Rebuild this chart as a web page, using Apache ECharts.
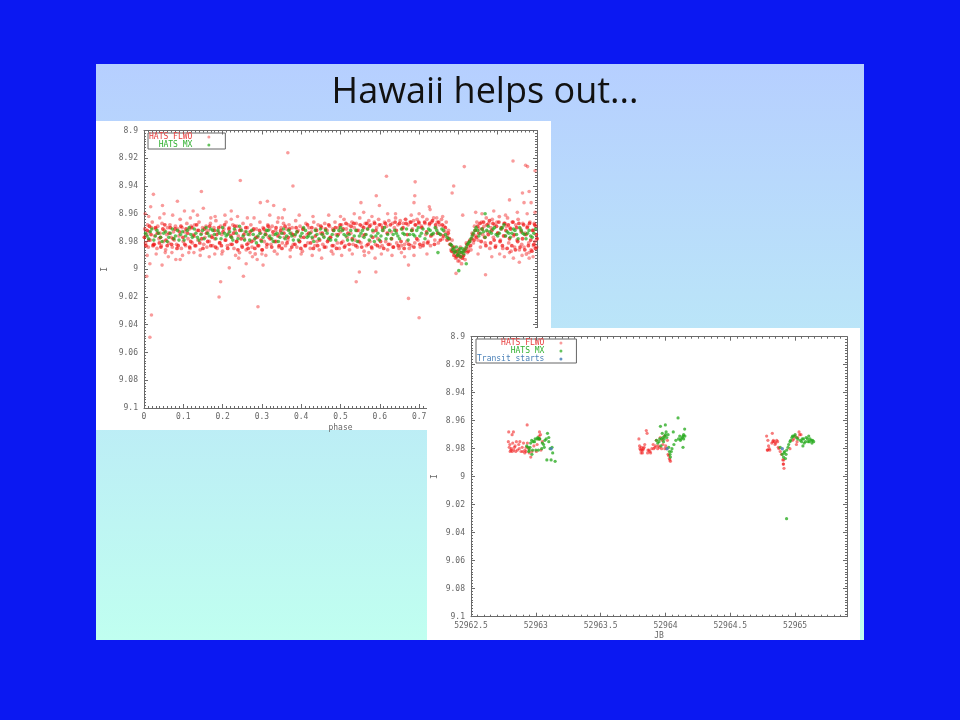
<!DOCTYPE html>
<html><head><meta charset="utf-8">
<style>html,body{margin:0;background:#0b18f2}#c{width:960px;height:720px;filter:blur(.6px)}</style>
<script src="https://cdn.jsdelivr.net/npm/echarts@6/dist/echarts.min.js"></script>
</head><body><div id="c"></div>
<script>
const titleText = 'Hawaii helps out...';
const seriesNames = ['HATS FLWO', 'HATS MX', 'Transit starts'];
const phaseOutliers = [[.366,8.916],[.245,8.936],[.379,8.94],[.146,8.944],[.024,8.946],[.085,8.951],[.314,8.951],[.296,8.952],[.33,8.954],[.047,8.954],[.017,8.955],[.151,8.956],[.357,8.957],[.125,8.958],[.103,8.958],[.222,8.958],[.003,8.96],[.051,8.96],[.181,8.962],[.222,8.964],[.263,8.963],[.342,8.963],[.015,8.996],[.046,8.997],[.217,8.999],[.26,8.996],[.288,8.993],[.303,8.997],[.007,9.005],[.253,9.005],[.081,8.993],[.092,8.993],[.054,8.988],[.071,8.988],[.127,8.988],[.18,8.989],[.27,8.988],[.3,8.989],[.195,9.009],[.191,9.02],[.019,9.033],[.015,9.049],[.29,9.027],[.54,9.009],[.673,9.021],[.7,9.035],[.617,8.933],[.69,8.937],[.815,8.926],[.939,8.922],[.971,8.925],[.976,8.926],[.995,8.929],[.788,8.94],[.784,8.945],[.591,8.947],[.689,8.947],[.687,8.952],[.552,8.952],[.599,8.954],[.559,8.959],[.726,8.955],[.728,8.957],[.963,8.945],[.98,8.944],[.93,8.95],[.967,8.952],[.985,8.952],[.844,8.959],[.95,8.959],[.995,8.959],[.811,8.961],[.62,8.96],[.68,8.961],[.745,8.963],[.665,8.964],[.663,8.991],[.673,8.997],[.548,9.002],[.59,9.002],[.794,9.003],[.869,9.004],[.588,8.992],[.572,8.988],[.955,8.995],[.917,8.991],[.93,8.988],[.98,8.992],[.98,8.988],[.802,8.994],
[.008,8.99],[.031,8.989],[.062,8.991],[.098,8.99],[.114,8.988],[.143,8.99],[.166,8.991],[.198,8.989],[.233,8.99],[.241,8.992],[.276,8.991],[.31,8.99],[.339,8.989],[.372,8.991],[.4,8.989],[.428,8.99],[.452,8.992],[.481,8.989],[.503,8.99],[.53,8.989],[.561,8.99],[.604,8.989],[.631,8.99],[.655,8.988],[.687,8.99],[.72,8.989],[.85,8.989],[.885,8.991],[.905,8.989],[.94,8.992],[.962,8.99],[.99,8.991],
[.012,8.962],[.04,8.963],[.073,8.961],[.118,8.963],[.136,8.961],[.17,8.963],[.206,8.961],[.238,8.962],[.28,8.963],[.32,8.961],[.352,8.963],[.395,8.961],[.43,8.962],[.47,8.961],[.5,8.962],[.535,8.96],[.58,8.962],[.64,8.96],[.7,8.96],[.76,8.962],[.86,8.96],[.89,8.958],[.92,8.961],[.975,8.96]];
const phaseFlwo = [[.002,8.971],[.004,8.981],[.006,8.975],[.009,8.968],[.011,8.984],[.013,8.973],[.016,8.979],[.019,8.97],[.021,8.966],[.024,8.982],[.027,8.976],[.03,8.971],[.033,8.985],[.035,8.969],[.038,8.978],[.041,8.974],[.044,8.983],[.046,8.967],[.049,8.98],[.052,8.972],[.055,8.986],[.058,8.975],[.06,8.97],[.063,8.981],[.066,8.968],[.069,8.977],[.072,8.984],[.075,8.973],[.077,8.979],[.08,8.969],[.083,8.982],[.086,8.971],[.089,8.976],[.092,8.964],[.095,8.985],[.097,8.97],[.1,8.98],[.103,8.973],[.106,8.983],[.109,8.967],[.112,8.978],[.115,8.971],[.117,8.985],[.12,8.969],[.123,8.981],[.126,8.975],[.129,8.968],[.132,8.983],[.135,8.972],[.137,8.979],[.14,8.966],[.143,8.986],[.146,8.974],[.149,8.97],[.152,8.982],[.155,8.977],[.158,8.969],[.16,8.984],[.163,8.972],[.166,8.98],[.169,8.967],[.172,8.976],[.175,8.983],[.178,8.97],[.18,8.978],[.183,8.965],[.186,8.985],[.189,8.973],[.192,8.981],[.195,8.969],[.198,8.975],[.2,8.987],[.203,8.971],[.206,8.979],[.209,8.966],[.212,8.983],[.215,8.974],[.217,8.97],[.22,8.982],[.223,8.977],[.226,8.968],[.229,8.985],[.232,8.972],[.235,8.98],[.237,8.969],[.24,8.976],[.243,8.988],[.246,8.971],[.249,8.983],[.252,8.967],[.255,8.978],[.257,8.973],[.26,8.986],[.263,8.97],[.266,8.981],[.269,8.975],[.272,8.968],[.275,8.984],[.277,8.972],[.28,8.979],[.283,8.989],[.286,8.971],[.289,8.977],[.292,8.983],[.295,8.966],[.297,8.974],[.3,8.986],[.303,8.97],[.306,8.98],[.309,8.973],[.312,8.984],[.315,8.968],[.317,8.977],[.32,8.971],[.323,8.982],[.326,8.969],[.329,8.975],[.332,8.987],[.335,8.972],[.337,8.98],[.34,8.966],[.343,8.984],[.346,8.974],[.349,8.97],[.352,8.981],[.355,8.967],[.357,8.977],[.36,8.983],[.363,8.971],[.366,8.979],[.369,8.968],[.372,8.986],[.375,8.974],[.377,8.97],[.38,8.982],[.383,8.976],[.386,8.965],[.389,8.984],[.392,8.972],[.395,8.98],[.397,8.969],[.4,8.977],[.403,8.987],[.406,8.971],[.409,8.983],[.412,8.967],[.415,8.975],[.417,8.981],[.42,8.97],[.423,8.985],[.426,8.973],[.429,8.978],[.432,8.966],[.435,8.983],[.437,8.971],[.44,8.98],[.443,8.968],[.446,8.986],[.449,8.974],[.452,8.97],[.455,8.982],[.457,8.976],[.46,8.967],[.463,8.984],[.466,8.972],[.469,8.979],[.472,8.969],[.475,8.977],[.477,8.987],[.48,8.971],[.483,8.983],[.486,8.966],[.489,8.975],[.492,8.981],[.495,8.97],[.497,8.985],[.5,8.973],[.503,8.968],[.506,8.98],[.509,8.964],[.512,8.983],[.515,8.971],[.517,8.977],[.52,8.968],[.523,8.986],[.526,8.974],[.529,8.966],[.532,8.982],[.535,8.97],[.537,8.979],[.54,8.967],[.543,8.984],[.546,8.972],[.549,8.963],[.552,8.981],[.555,8.969],[.557,8.976],[.56,8.987],[.563,8.967],[.566,8.983],[.569,8.971],[.572,8.965],[.575,8.98],[.577,8.968],[.58,8.985],[.583,8.973],[.586,8.966],[.589,8.982],[.592,8.97],[.595,8.978],[.597,8.964],[.6,8.984],[.603,8.968],[.606,8.983],[.609,8.972],[.612,8.966],[.615,8.98],[.617,8.969],[.62,8.986],[.623,8.965],[.626,8.982],[.629,8.973],[.632,8.967],[.635,8.984],[.637,8.97],[.64,8.963],[.643,8.981],[.646,8.968],[.649,8.985],[.652,8.965],[.655,8.983],[.657,8.971],[.66,8.967],[.663,8.982],[.666,8.964],[.669,8.98],[.672,8.968],[.675,8.985],[.677,8.966],[.68,8.983],[.683,8.971],[.686,8.965],[.689,8.981],[.692,8.968],[.695,8.964],[.697,8.979],[.7,8.967],[.703,8.984],[.706,8.969],[.709,8.962],[.712,8.981],[.715,8.967],[.717,8.975],[.72,8.964],[.723,8.98],[.726,8.968],[.729,8.983],[.732,8.966],[.735,8.975],[.737,8.963],[.74,8.979],[.743,8.97],[.746,8.966],[.749,8.981],[.752,8.968],[.755,8.975],[.757,8.964],[.76,8.978],[.763,8.969],[.766,8.973],[.769,8.966],[.772,8.976],[.775,8.972],[.778,8.982],[.781,8.986],[.784,8.979],[.787,8.988],[.79,8.984],[.793,8.992],[.796,8.987],[.799,8.994],[.802,8.99],[.805,8.984],[.808,8.996],[.811,8.991],[.814,8.986],[.817,8.993],[.82,8.981],[.823,8.988],[.826,8.984],[.829,8.979],[.832,8.986],[.835,8.974],[.838,8.981],[.841,8.969],[.844,8.976],[.847,8.966],[.85,8.979],[.853,8.971],[.856,8.984],[.859,8.966],[.862,8.975],[.865,8.969],[.868,8.981],[.871,8.963],[.874,8.973],[.877,8.967],[.88,8.985],[.883,8.97],[.886,8.964],[.889,8.977],[.892,8.968],[.895,8.983],[.898,8.966],[.901,8.974],[.904,8.962],[.907,8.979],[.91,8.971],[.913,8.985],[.916,8.967],[.919,8.976],[.922,8.969],[.925,8.963],[.928,8.981],[.931,8.97],[.934,8.987],[.937,8.966],[.94,8.976],[.943,8.984],[.946,8.968],[.949,8.979],[.952,8.964],[.955,8.986],[.958,8.971],[.961,8.982],[.964,8.967],[.967,8.984],[.97,8.974],[.973,8.989],[.976,8.969],[.979,8.981],[.982,8.966],[.985,8.986],[.988,8.972],[.991,8.983],[.993,8.967],[.995,8.98],[.997,8.969],[.999,8.984]];
const phaseFlwoCore = [[.001,8.977],[.005,8.983],[.008,8.972],[.012,8.979],[.014,8.969],[.018,8.975],[.023,8.983],[.026,8.982],[.029,8.97],[.034,8.974],[.039,8.981],[.042,8.977],[.043,8.984],[.048,8.971],[.053,8.968],[.056,8.979],[.059,8.983],[.064,8.974],[.067,8.97],[.07,8.982],[.074,8.978],[.079,8.971],[.084,8.985],[.087,8.983],[.09,8.973],[.094,8.969],[.099,8.977],[.104,8.982],[.107,8.971],[.111,8.974],[.116,8.984],[.119,8.98],[.122,8.97],[.127,8.976],[.13,8.983],[.134,8.968],[.139,8.972],[.142,8.981],[.147,8.978],[.15,8.985],[.154,8.971],[.159,8.974],[.162,8.98],[.167,8.969],[.17,8.983],[.173,8.977],[.179,8.972],[.182,8.984],[.185,8.975],[.19,8.97],[.193,8.981],[.197,8.983],[.201,8.973],[.205,8.968],[.208,8.979],[.213,8.985],[.216,8.971],[.221,8.976],[.224,8.982],[.228,8.974],[.231,8.969],[.236,8.98],[.239,8.986],[.244,8.972],[.247,8.978],[.25,8.984],[.254,8.975],[.259,8.97],[.262,8.982],[.265,8.985],[.27,8.973],[.274,8.98],[.279,8.971],[.282,8.985],[.285,8.977],[.29,8.983],[.294,8.972],[.298,8.979],[.301,8.986],[.305,8.971],[.31,8.975],[.313,8.982],[.316,8.969],[.321,8.978],[.325,8.984],[.328,8.973],[.333,8.98],[.336,8.97],[.341,8.976],[.344,8.983],[.348,8.972],[.351,8.985],[.356,8.974],[.359,8.969],[.364,8.981],[.367,8.977],[.37,8.971],[.376,8.984],[.379,8.975],[.384,8.982],[.387,8.97],[.39,8.973],[.396,8.98],[.399,8.985],[.404,8.971],[.407,8.977],[.411,8.983],[.416,8.968],[.419,8.974],[.424,8.981],[.427,8.97],[.431,8.985],[.436,8.976],[.439,8.972],[.442,8.983],[.447,8.979],[.45,8.969],[.454,8.974],[.459,8.984],[.462,8.971],[.467,8.98],[.47,8.968],[.474,8.977],[.479,8.983],[.482,8.972],[.487,8.97],[.49,8.985],[.494,8.975],[.499,8.968],[.502,8.981],[.507,8.971],[.51,8.984],[.514,8.967],[.519,8.974],[.522,8.982],[.527,8.969],[.53,8.978],[.534,8.967],[.539,8.983],[.542,8.972],[.547,8.98],[.55,8.968],[.554,8.984],[.559,8.97],[.562,8.975],[.567,8.967],[.57,8.982],[.574,8.969],[.579,8.984],[.582,8.977],[.587,8.967],[.59,8.972],[.594,8.983],[.599,8.968],[.602,8.98],[.607,8.97],[.61,8.985],[.614,8.967],[.619,8.974],[.622,8.982],[.627,8.968],[.63,8.978],[.634,8.984],[.639,8.966],[.642,8.972],[.647,8.983],[.65,8.967],[.654,8.98],[.659,8.97],[.662,8.985],[.667,8.967],[.67,8.975],[.674,8.982],[.679,8.966],[.682,8.972],[.687,8.984],[.69,8.968],[.694,8.978],[.699,8.966],[.702,8.982],[.707,8.97],[.71,8.983],[.714,8.966],[.719,8.973],[.722,8.981],[.727,8.967],[.73,8.976],[.734,8.965],[.739,8.982],[.742,8.968],[.747,8.974],[.75,8.966],[.754,8.979],[.759,8.968],[.762,8.976],[.767,8.97],[.771,8.979],[.774,8.974],[.777,8.978],[.78,8.982],[.783,8.987],[.786,8.984],[.789,8.99],[.792,8.987],[.795,8.991],[.798,8.989],[.801,8.986],[.804,8.991],[.807,8.988],[.81,8.992],[.813,8.99],[.816,8.987],[.819,8.985],[.822,8.982],[.825,8.987],[.828,8.98],[.831,8.983],[.834,8.978],[.837,8.975],[.84,8.979],[.843,8.972],[.846,8.977],[.849,8.969],[.852,8.974],[.855,8.967],[.858,8.98],[.861,8.971],[.864,8.966],[.867,8.977],[.87,8.983],[.873,8.968],[.876,8.975],[.879,8.965],[.882,8.981],[.885,8.972],[.888,8.967],[.891,8.979],[.894,8.984],[.897,8.969],[.9,8.974],[.903,8.966],[.906,8.98],[.909,8.97],[.912,8.983],[.915,8.976],[.918,8.967],[.921,8.972],[.924,8.985],[.927,8.968],[.93,8.978],[.933,8.971],[.936,8.983],[.939,8.966],[.942,8.975],[.945,8.986],[.948,8.97],[.951,8.98],[.954,8.967],[.957,8.984],[.96,8.973],[.963,8.978],[.966,8.968],[.969,8.986],[.972,8.975],[.975,8.97],[.978,8.983],[.981,8.967],[.984,8.979],[.987,8.987],[.99,8.972],[.992,8.982],[.994,8.968],[.996,8.985],[.998,8.975],[1,8.978]];
const phaseMx = [[.004,8.974],[.012,8.978],[.02,8.971],[.029,8.976],[.037,8.974],[.046,8.98],[.055,8.973],[.063,8.977],[.072,8.971],[.08,8.976],[.089,8.979],[.098,8.973],[.106,8.976],[.115,8.97],[.123,8.977],[.132,8.974],[.14,8.979],[.149,8.972],[.158,8.97],[.166,8.976],[.175,8.972],[.183,8.978],[.192,8.974],[.2,8.97],[.209,8.976],[.218,8.973],[.226,8.979],[.235,8.974],[.243,8.969],[.252,8.976],[.26,8.973],[.269,8.979],[.278,8.975],[.286,8.981],[.295,8.974],[.303,8.977],[.312,8.972],[.32,8.976],[.329,8.98],[.338,8.974],[.346,8.977],[.355,8.971],[.363,8.976],[.372,8.974],[.38,8.979],[.389,8.973],[.398,8.976],[.406,8.97],[.415,8.977],[.423,8.974],[.432,8.98],[.44,8.975],[.449,8.971],[.458,8.977],[.466,8.974],[.475,8.979],[.483,8.972],[.492,8.976],[.5,8.97],[.509,8.975],[.518,8.979],[.526,8.972],[.535,8.976],[.543,8.98],[.552,8.974],[.56,8.977],[.569,8.971],[.578,8.976],[.586,8.98],[.595,8.974],[.603,8.976],[.612,8.97],[.62,8.975],[.629,8.978],[.638,8.972],[.646,8.976],[.655,8.971],[.663,8.975],[.672,8.979],[.681,8.972],[.689,8.976],[.698,8.97],[.706,8.974],[.715,8.978],[.724,8.971],[.732,8.975],[.741,8.97],[.75,8.974],[.758,8.971],[.767,8.975],[.775,8.978],[.78,8.982],[.785,8.986],[.79,8.988],[.795,8.984],[.798,8.99],[.802,8.987],[.806,8.991],[.81,8.985],[.814,8.989],[.82,8.984],[.826,8.981],[.832,8.978],[.838,8.974],[.845,8.97],[.852,8.976],[.86,8.971],[.868,8.977],[.876,8.969],[.884,8.974],[.892,8.97],[.9,8.976],[.908,8.971],[.916,8.968],[.924,8.973],[.932,8.977],[.94,8.971],[.948,8.975],[.956,8.97],[.964,8.974],[.972,8.978],[.98,8.972],[.988,8.977],[.996,8.971],[.748,8.988],[.801,9.001],[.868,8.96],[.82,8.996],
[.008,8.976],[.016,8.973],[.025,8.979],[.033,8.972],[.042,8.977],[.05,8.974],[.059,8.98],[.067,8.974],[.076,8.978],[.085,8.972],[.093,8.975],[.102,8.979],[.11,8.972],[.119,8.975],[.128,8.971],[.136,8.977],[.145,8.975],[.153,8.978],[.162,8.974],[.17,8.971],[.179,8.975],[.188,8.972],[.196,8.978],[.205,8.974],[.213,8.975],[.222,8.977],[.23,8.971],[.239,8.978],[.248,8.972],[.256,8.979],[.265,8.975],[.274,8.972],[.282,8.978],[.29,8.976],[.299,8.98],[.308,8.975],[.316,8.972],[.325,8.978],[.334,8.975],[.342,8.98],[.351,8.974],[.359,8.978],[.368,8.972],[.376,8.976],[.385,8.975],[.393,8.979],[.402,8.974],[.411,8.972],[.419,8.976],[.428,8.977],[.436,8.972],[.445,8.978],[.453,8.975],[.462,8.972],[.47,8.978],[.479,8.975],[.488,8.979],[.496,8.972],[.505,8.972],[.514,8.976],[.522,8.975],[.53,8.979],[.539,8.972],[.548,8.976],[.556,8.972],[.565,8.975],[.573,8.979],[.582,8.972],[.59,8.976],[.599,8.979],[.607,8.972],[.616,8.978],[.625,8.972],[.634,8.975],[.642,8.974],[.65,8.978],[.659,8.974],[.668,8.971],[.676,8.975],[.685,8.975],[.694,8.972],[.702,8.976],[.71,8.971],[.72,8.974],[.728,8.972],[.736,8.974],[.745,8.972],[.754,8.975],[.762,8.972],[.771,8.977],[.783,8.983],[.788,8.985],[.793,8.987],[.8,8.989],[.804,8.985],[.808,8.988],[.812,8.987],[.817,8.986],[.823,8.982],[.829,8.98],[.835,8.976],[.842,8.972],[.849,8.972],[.856,8.974],[.864,8.973],[.872,8.972],[.88,8.973],[.888,8.971],[.896,8.975],[.904,8.974],[.912,8.97],[.92,8.976],[.928,8.974],[.936,8.974],[.944,8.972],[.952,8.978],[.96,8.972],[.968,8.975],[.976,8.974],[.984,8.976],[.992,8.974]];
const jdFlwo = [[52962.933,8.963],[52962.791,8.968],[52962.827,8.968],[52962.817,8.97],[52963.028,8.968],[52963.036,8.97],[52962.788,8.975],[52962.795,8.979],[52962.802,8.982],[52962.812,8.98],[52962.822,8.976],[52962.83,8.981],[52962.84,8.978],[52962.85,8.975],[52962.858,8.981],[52962.868,8.977],[52962.877,8.975],[52962.886,8.982],[52962.895,8.979],[52962.905,8.976],[52962.916,8.981],[52962.926,8.979],[52962.961,8.986],[52962.945,8.98],[52962.985,8.978],[52963.004,8.982],[52963.02,8.973],[52963.03,8.973],[52963.04,8.981],[52963.05,8.975],[52962.8,8.977],[52962.807,8.981],[52962.818,8.982],[52962.835,8.979],[52962.845,8.982],[52962.872,8.98],[52962.9,8.982],[52962.915,8.983],[52962.925,8.982],[52962.935,8.976],[52962.95,8.983],[52962.97,8.982],[52963.01,8.977],[52963.025,8.971],
[52963.795,8.973],[52963.8,8.978],[52963.808,8.981],[52963.815,8.979],[52963.822,8.983],[52963.83,8.98],[52963.84,8.977],[52963.852,8.967],[52963.858,8.969],[52963.862,8.983],[52963.873,8.981],[52963.885,8.983],[52963.895,8.98],[52963.905,8.977],[52963.918,8.979],[52963.93,8.974],[52963.945,8.978],[52963.96,8.972],[52963.97,8.98],[52963.98,8.977],[52963.99,8.971],[52964.002,8.978],[52964.015,8.974],[52964.02,8.984],[52964.03,8.987],[52964.038,8.989],[52963.803,8.98],[52963.812,8.983],[52963.818,8.981],[52963.826,8.981],[52963.835,8.979],[52963.865,8.981],[52963.88,8.982],[52963.91,8.98],[52963.925,8.978],[52963.94,8.98],[52963.955,8.979],[52963.975,8.974],[52963.995,8.98],[52964.01,8.98],[52964.025,8.985],[52964.034,8.988],
[52964.78,8.971],[52964.824,8.969],[52964.785,8.981],[52964.795,8.978],[52964.79,8.974],[52964.805,8.981],[52964.82,8.976],[52964.832,8.974],[52964.845,8.977],[52964.858,8.974],[52964.87,8.979],[52964.885,8.982],[52964.895,8.984],[52964.905,8.988],[52964.91,8.991],[52964.914,8.994],[52964.96,8.98],[52964.98,8.974],[52965.0,8.971],[52965.02,8.972],[52965.03,8.968],[52965.045,8.97],[52965.01,8.977],[52964.788,8.981],[52964.8,8.98],[52964.828,8.975],[52964.84,8.975],[52964.85,8.976],[52964.865,8.975],[52964.875,8.98],[52964.908,8.991],[52964.912,8.988],[52964.99,8.973],[52965.015,8.975],[52965.035,8.97]];
const jdMx = [[52962.93,8.978],[52962.945,8.982],[52962.96,8.976],[52962.975,8.981],[52962.99,8.975],[52963.0,8.981],[52963.015,8.972],[52963.03,8.973],[52963.045,8.98],[52963.06,8.977],[52963.07,8.974],[52963.09,8.969],[52963.1,8.975],[52963.11,8.98],[52963.13,8.983],[52963.085,8.988],[52963.118,8.988],[52963.149,8.989],[52962.97,8.984],[52963.02,8.981],[52962.94,8.979],[52962.955,8.979],[52962.968,8.974],[52962.98,8.975],[52962.995,8.973],[52963.01,8.973],[52963.025,8.973],[52963.05,8.976],[52963.065,8.979],[52963.08,8.973],[52963.1,8.972],[52963.125,8.979],[52962.95,8.981],
[52963.93,8.974],[52963.94,8.976],[52963.955,8.973],[52963.965,8.978],[52963.975,8.969],[52963.985,8.975],[52963.995,8.971],[52964.005,8.968],[52964.02,8.97],[52963.961,8.964],[52963.999,8.963],[52964.097,8.958],[52964.148,8.966],[52964.03,8.982],[52964.038,8.986],[52964.05,8.98],[52964.065,8.977],[52964.08,8.974],[52964.1,8.973],[52964.115,8.974],[52964.13,8.972],[52964.14,8.97],[52964.15,8.971],[52964.135,8.979],[52964.06,8.968],[52963.95,8.975],[52963.97,8.973],[52963.98,8.972],[52963.99,8.973],[52964.0,8.97],[52964.01,8.972],[52964.025,8.979],[52964.035,8.984],[52964.045,8.982],[52964.12,8.973],[52964.11,8.971],[52964.135,8.971],[52964.14,8.973],
[52964.885,8.979],[52964.9,8.984],[52964.91,8.986],[52964.918,8.982],[52964.925,8.987],[52964.935,8.981],[52964.95,8.977],[52964.965,8.974],[52964.98,8.971],[52965.0,8.97],[52965.02,8.973],[52965.04,8.974],[52965.055,8.973],[52965.07,8.976],[52965.085,8.972],[52965.1,8.975],[52965.115,8.973],[52965.13,8.976],[52965.143,8.975],[52965.06,8.978],[52965.105,8.971],[52964.934,9.03],[52964.915,8.983],[52964.93,8.984],[52964.945,8.979],[52964.96,8.975],[52964.975,8.972],[52964.99,8.971],[52965.01,8.972],[52965.05,8.975],[52965.065,8.973],[52965.08,8.975],[52965.095,8.973],[52965.11,8.975],[52965.125,8.974],[52965.135,8.974]];
const jdTransit = [[52963.118,8.98],[52964.012,8.98],[52964.901,8.98]];

const labelFont = {fontFamily:'"DejaVu Sans Mono",monospace',fontSize:8,color:'#666'};
const axisColor = '#6a6a6a';
const axisLine = {show:true,onZero:false,lineStyle:{color:axisColor,width:1}};
const axisBase = (over,z) => ({type:'value',z,scale:true,splitLine:{show:false},axisLine,
  axisTick:{show:true,inside:true,length:4,lineStyle:{color:axisColor}},
  minorTick:{show:true,splitNumber:10,length:2,lineStyle:{color:axisColor}},minorSplitLine:{show:false},...over});
const xAxes = (g,min,max,interval,name,gap,z,fmt)=>[
  axisBase({gridIndex:g,min,max,interval,position:'bottom',name,nameLocation:'middle',nameGap:gap,nameTextStyle:labelFont,
    axisLabel:{...labelFont,margin:5,showMaxLabel:g===0,showMinLabel:true,formatter:fmt}},z),
  axisBase({gridIndex:g,min,max,interval,position:'top',axisLabel:{show:false}},z)];
const yAxes = (g,gap,z)=>[
  axisBase({gridIndex:g,min:8.9,max:9.1,interval:.02,inverse:true,position:'left',name:'I',nameLocation:'middle',nameGap:gap,nameRotate:90,nameTextStyle:labelFont,
    axisLabel:{...labelFont,margin:6,formatter:v=>String(+v.toFixed(2))}},z),
  axisBase({gridIndex:g,min:8.9,max:9.1,interval:.02,inverse:true,position:'right',axisLabel:{show:false}},z)];
const red='#f01010', green='#22a818', blue='#4a80b8';
const dot=(name,data,x,y,color,size,op,z)=>({type:'scatter',name,data,xAxisIndex:x,yAxisIndex:y,symbol:'circle',symbolSize:size,z,
  itemStyle:{color,opacity:op},silent:true,animation:false});
const legendItem=n=>({name:n,textStyle:{color:n===seriesNames[0]?'#e84040':n===seriesNames[1]?'#30b030':blue}});
const legend=(names,w,left,top,z,rp)=>({show:true,orient:'vertical',align:'right',left,top,z,selectedMode:false,itemWidth:3,itemHeight:3,itemGap:0,padding:[0,rp,0,1],
  borderColor:'#666',borderWidth:1,data:names.map(legendItem),icon:'circle',
  textStyle:{fontFamily:'"DejaVu Sans Mono",monospace',fontSize:8,lineHeight:7,padding:[0,10,0,0]},
  formatter:n=>n.padStart(w,' ')});

const chart=echarts.init(document.getElementById('c'),null,{renderer:'canvas'});
chart.setOption({animation:false,backgroundColor:'#0b18f2',
  graphic:{elements:[
    {type:'rect',z:1,shape:{x:96,y:64,width:768,height:576},style:{fill:new echarts.graphic.LinearGradient(0,0,0,1,[{offset:0,color:'#b6cfff'},{offset:1,color:'#c0fff0'}])}},
    {type:'text',z:1,x:485,y:93,style:{text:titleText,fill:'#111',fontFamily:'"Open Sans"',fontSize:36,textAlign:'center',textVerticalAlign:'middle'}},
    {type:'rect',z:1,shape:{x:96,y:121,width:455,height:309},style:{fill:'#fff'}},
    {type:'rect',z:5,shape:{x:427,y:328,width:433,height:312},style:{fill:'#fff'}}
  ]},
  grid:[{left:144,top:130.5,width:393,height:277.5},{left:471,top:336.7,width:376,height:280}],
  xAxis:[...xAxes(0,0,1,.1,'phase',16,2,v=>String(+v.toFixed(1))),...xAxes(1,52962.5,52965.4,.5,'JB',15,6,v=>String(v))],
  yAxis:[...yAxes(0,35,2),...yAxes(1,32,6)],
  legend:[legend(seriesNames.slice(0,2),9,148,133,4,15),legend(seriesNames,14,476,339,8,14)],
  series:[
    dot(seriesNames[0],phaseOutliers,0,0,red,3.6,.42,3),
    dot(seriesNames[0],phaseFlwo,0,0,red,3.8,.45,3),
    dot(seriesNames[0],phaseFlwoCore,0,0,red,3.8,.7,3),
    dot(seriesNames[1],phaseMx,0,0,green,3.6,.7,3),
    dot(seriesNames[0],jdFlwo,2,2,red,3.2,.55,7),
    dot(seriesNames[1],jdMx,2,2,green,3.2,.75,7),
    dot(seriesNames[2],jdTransit,2,2,blue,3.4,.85,7)
  ]});
</script></body></html>
